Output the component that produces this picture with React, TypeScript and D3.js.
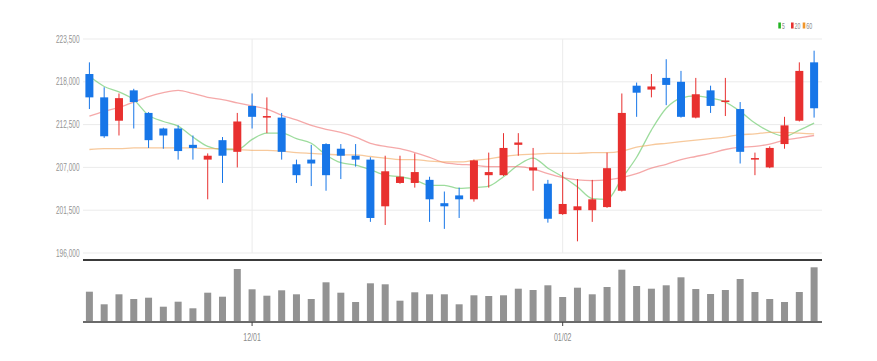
import React from "react";
import * as d3 from "d3";

const dates = ["11/14","11/17","11/18","11/19","11/20","11/21","11/24","11/25","11/26","11/27","11/28","12/01","12/02","12/03","12/04","12/05","12/08","12/09","12/10","12/11","12/12","12/15","12/16","12/17","12/18","12/19","12/22","12/23","12/24","12/26","12/29","12/30","01/02","01/05","01/06","01/07","01/08","01/09","01/12","01/13","01/14","01/15","01/16","01/19","01/20","01/21","01/22","01/23","01/26","01/27"];
const opens = [219000,216000,213000,216900,214000,212000,212000,209900,208000,210500,209000,214900,213400,213400,207400,208000,210000,209400,208500,208000,202000,205000,205000,205400,202400,203400,202900,206000,206000,209900,206600,204900,201000,201500,201500,201900,204000,217500,217000,218500,218000,213400,216900,215400,214500,208000,207000,210000,213000,220500];
const highs = [220500,217300,216500,217100,214100,212100,212400,211100,208800,210900,214000,216500,216000,214000,208000,209900,210100,210000,210000,208300,208500,208500,208800,205800,203900,204400,208000,208900,211400,211400,209500,205400,206400,205500,205400,208900,216500,217900,219000,220900,219400,218500,217500,218500,215400,208900,209700,213500,220500,222000];
const lows = [214500,210800,211100,212000,209500,209400,208000,208000,202900,205000,207000,212000,211400,208000,205000,204600,204000,205500,207100,200000,199600,204900,204400,200000,199100,200500,202600,204400,205900,208500,204000,199900,200900,197500,200000,201800,203900,213500,216000,215000,213400,213300,214000,213600,207500,206000,206900,209400,212900,213400];
const closes = [216000,211000,215900,215400,210500,211100,209100,209500,208500,208500,212900,213500,213600,209000,206000,207500,206000,208500,208000,200500,206500,205800,206400,202900,202000,202900,207900,206400,209500,210200,207000,200400,202300,202000,202900,206900,214000,216600,217400,217600,213500,216400,214900,215600,209000,208200,209500,212400,219400,214600];
const volumes = [30300,17700,27700,23000,24300,15300,20300,13700,29300,25300,53000,32700,26300,31700,27700,23000,39700,29300,20000,38700,37700,21300,29700,27700,27700,17700,26700,26000,26700,33300,32000,36700,25000,34300,27700,35000,52300,36000,33300,36700,44700,33000,28000,32000,43000,30000,23000,20000,30000,54700];
const ma5 = [218700,217400,216700,215700,213700,212900,212300,210900,209700,209300,209300,210600,211400,211400,210700,210100,208600,207600,207300,206700,206000,205800,205400,204700,204700,204300,204400,204600,205800,207300,208200,206900,205800,204500,203000,202900,205600,208300,211800,214600,215900,216200,215900,215400,214200,212700,211600,211000,211800,212700];
const ma20 = [213600,214200,214700,215400,216100,216600,216900,216500,216000,215700,215300,214900,214500,213700,213100,212400,211900,211500,210900,210100,209700,209400,208900,208300,207600,207400,207300,207100,207100,207100,206800,206200,205700,205400,205300,205400,205700,206200,206900,207400,208000,208400,208800,209300,209600,209700,210000,210500,210800,211100];
const ma60 = [209300,209400,209400,209500,209500,209500,209500,209500,209400,209400,209300,209200,209200,209100,208900,208800,208700,208600,208600,208400,208200,208000,208000,207800,207700,207700,207900,208100,208400,208600,208700,208800,208800,208800,208900,208900,209100,209600,209900,210100,210300,210500,210700,210900,211200,211300,211500,211500,211400,211300];
const yTicks = [196000, 201500, 207000, 212500, 218000, 223500];
const xTickLabels = ["12/01", "01/02"];
const legendItems = ["5", "20", "60"];

const UP = "#e8302f";
const DOWN = "#1776e8";
const MA_COLORS = ["#5cc45c", "#ee6f6f", "#f2a55a"];
const LEGEND_COLORS = ["#22b422", "#e8302f", "#f0962a"];
const FONT = "'Liberation Sans', Arial, sans-serif";

export default function App() {
  const W = 877, H = 361;
  const left = 82, right = 821.5;
  const x = d3.scaleBand<string>().domain(dates).range([left, right]).padding(0);
  const cx = (i: number) => (x(dates[i]) as number) + x.bandwidth() / 2;
  const y = d3.scaleLinear().domain([196000, 223500]).range([253, 39]);
  const vy = d3.scaleLinear().domain([0, 62000]).range([322, 260]);
  const bodyW = 8;
  const volW = 7;
  const fmt = d3.format(",");

  const line = d3.line<number>().x((_, i) => cx(i)).y((d) => y(d)).curve(d3.curveMonotoneX);
  const mas = [ma5, ma20, ma60];

  const legendRectX = [778.3, 791, 802.7];
  const legendTextW = [2.8, 5.8, 6];

  return (
    <svg width={W} height={H} style={{ position: "absolute", left: 0, top: 0, background: "#fff" }} fontFamily={FONT}>
      {yTicks.map((t) => (
        <g key={t}>
          <line x1={83} x2={822} y1={y(t)} y2={y(t)} stroke="#ebebeb" strokeWidth={1} />
          <text x={79.5} y={y(t)} dy="0.35em" textAnchor="end" fontSize={10} fill="#949494" textLength={23.5} lengthAdjust="spacingAndGlyphs">{fmt(t)}</text>
        </g>
      ))}
      {xTickLabels.map((d) => (
        <line key={d} x1={cx(dates.indexOf(d))} x2={cx(dates.indexOf(d))} y1={39} y2={253} stroke="#ebebeb" strokeWidth={1} />
      ))}
      {mas.map((m, k) => (
        <path key={k} d={line(m) as string} fill="none" stroke={MA_COLORS[k]} strokeOpacity={0.6} strokeWidth={1.3} />
      ))}
      {dates.map((d, i) => {
        const o = opens[i], c = closes[i], h = highs[i], l = lows[i];
        const up = c >= o;
        const col = up ? UP : DOWN;
        const top = y(Math.max(o, c));
        const bot = y(Math.min(o, c));
        return (
          <g key={d}>
            <line x1={cx(i)} x2={cx(i)} y1={y(h)} y2={y(l)} stroke={col} strokeWidth={1} />
            <rect x={cx(i) - bodyW / 2} y={top} width={bodyW} height={Math.max(1.5, bot - top)} fill={col} />
          </g>
        );
      })}
      <line x1={83} x2={822} y1={260} y2={260} stroke="#3a3a3a" strokeWidth={1.8} />
      {dates.map((d, i) => (
        <rect key={d} x={cx(i) - volW / 2} y={vy(volumes[i])} width={volW} height={vy(0) - vy(volumes[i])} fill="#939393" />
      ))}
      <line x1={83} x2={822} y1={322} y2={322} stroke="#6b6b6b" strokeWidth={2} />
      {xTickLabels.map((d) => (
        <g key={d}>
          <line x1={cx(dates.indexOf(d))} x2={cx(dates.indexOf(d))} y1={322} y2={326} stroke="#444" strokeWidth={1} />
          <text x={cx(dates.indexOf(d))} y={341} textAnchor="middle" fontSize={10.5} fill="#8a8a8a" textLength={17.5} lengthAdjust="spacingAndGlyphs">{d}</text>
        </g>
      ))}
      {legendItems.map((t, k) => (
        <g key={t}>
          <rect x={legendRectX[k]} y={22.5} width={2.6} height={6} fill={LEGEND_COLORS[k]} />
          <text x={legendRectX[k] + 3.6} y={28.8} fontSize={9.5} fill="#8a8a8a" textLength={legendTextW[k]} lengthAdjust="spacingAndGlyphs">{t}</text>
        </g>
      ))}
    </svg>
  );
}
